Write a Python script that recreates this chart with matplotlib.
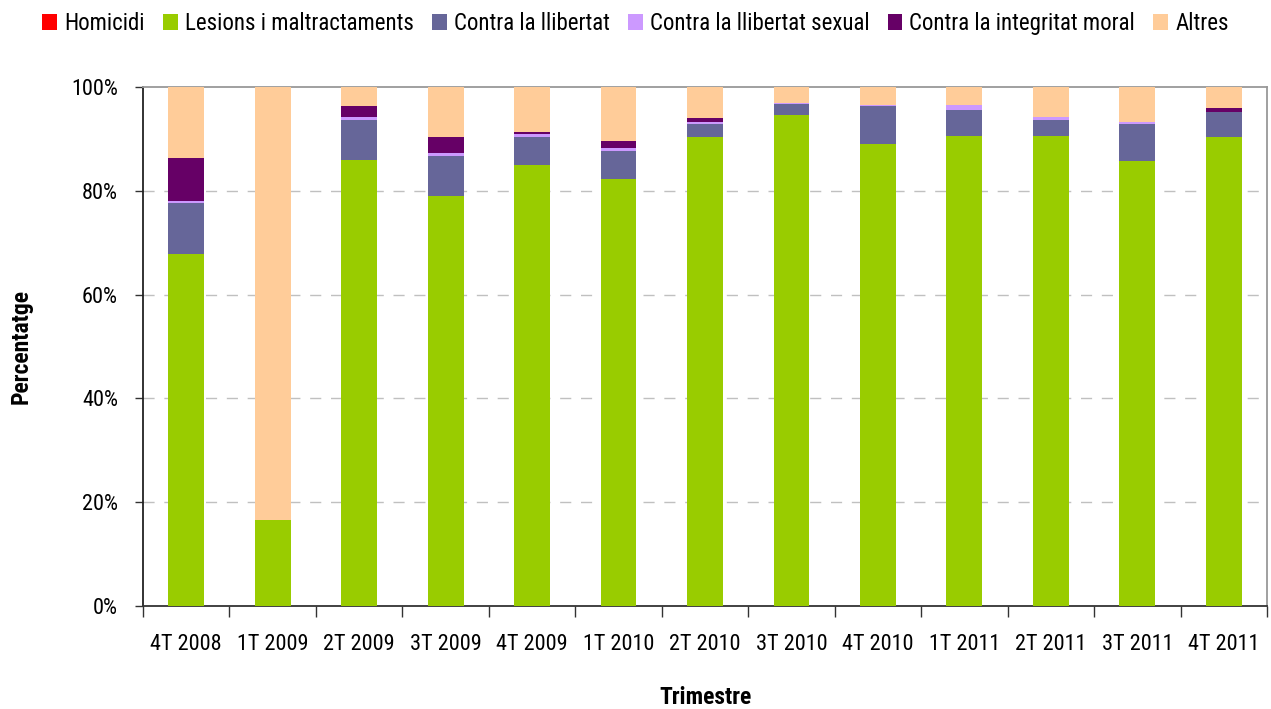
import numpy as np
import matplotlib
matplotlib.use('Agg')
import matplotlib.pyplot as plt
from matplotlib import font_manager
from matplotlib.ticker import PercentFormatter

# the original uses a narrow font; use one if available, otherwise shrink
installed = {f.name for f in font_manager.fontManager.ttflist}
narrow = [n for n in ['Liberation Sans Narrow', 'Arial Narrow', 'Roboto Condensed',
                      'Open Sans Condensed', 'DejaVu Sans Condensed'] if n in installed]
if narrow:
    plt.rcParams['font.family'] = [narrow[0], 'DejaVu Sans']
    fs_tick, fs_leg, fs_lab = 16, 16.5, 17
else:
    plt.rcParams['font.family'] = ['Liberation Sans', 'DejaVu Sans']
    fs_tick, fs_leg, fs_lab = 13, 13, 15

trimestres = ['4T 2008', '1T 2009', '2T 2009', '3T 2009', '4T 2009', '1T 2010', '2T 2010',
              '3T 2010', '4T 2010', '1T 2011', '2T 2011', '3T 2011', '4T 2011']

homicidi = [0, 0, 0, 0, 0, 0, 0, 0, 0, 0, 0, 0, 0]
lesions = [67.8, 16.6, 85.9, 79.0, 85.0, 82.3, 90.4, 94.6, 89.0, 90.6, 90.6, 85.7, 90.4]
llibertat = [9.85, 0, 7.7, 7.7, 5.4, 5.4, 2.5, 2.1, 7.3, 5.0, 3.0, 7.2, 4.8]
llibertat_sexual = [0.35, 0, 0.6, 0.6, 0.5, 0.5, 0.4, 0.2, 0.2, 0.9, 0.6, 0.4, 0]
integritat_moral = [8.3, 0, 2.1, 3.1, 0.4, 1.4, 0.7, 0, 0, 0, 0, 0, 0.8]
altres = [13.7, 83.4, 3.7, 9.6, 8.7, 10.4, 6.0, 3.1, 3.5, 3.5, 5.8, 6.7, 4.0]

series = [
    ('Homicidi', homicidi, '#FF0000'),
    ('Lesions i maltractaments', lesions, '#99CC00'),
    ('Contra la llibertat', llibertat, '#666699'),
    ('Contra la llibertat sexual', llibertat_sexual, '#CC99FF'),
    ('Contra la integritat moral', integritat_moral, '#660066'),
    ('Altres', altres, '#FFCC99'),
]

W, H = 1271, 709
fig = plt.figure(figsize=(W / 100, H / 100), dpi=100)
ax = fig.add_axes([143 / W, 1 - 606 / H, 1124 / W, 519 / H])

x = np.arange(len(trimestres))
bottom = np.zeros(len(trimestres))
for name, vals, col in series:
    vals = np.array(vals, dtype=float)
    ax.bar(x, vals, 0.415, bottom=bottom, color=col, label=name, zorder=3)
    bottom += vals

ax.set_xlim(-0.5, len(trimestres) - 0.5)
ax.set_ylim(0, 100)
ax.set_yticks(np.arange(0, 101, 20))
ax.yaxis.set_major_formatter(PercentFormatter(decimals=0))
ax.set_xticks(x)
ax.set_xticklabels(trimestres)
ax.tick_params(axis='x', length=0, pad=20, labelsize=fs_tick)
ax.set_xticks(np.arange(-0.5, len(trimestres), 1), minor=True)
ax.tick_params(axis='x', which='minor', length=8, width=1, color='#333333')
ax.tick_params(axis='y', length=6, width=1, color='#333333', labelsize=fs_tick, pad=12)

for yv in [20, 40, 60, 80]:
    ax.axhline(yv, color='#C0C0C0', lw=1, linestyle=(0, (8, 7)), zorder=1)

ax.spines['left'].set_color('#222222')
ax.spines['bottom'].set_color('#333333')
ax.spines['top'].set_color('#999999')
ax.spines['right'].set_color('#999999')
for s in ax.spines.values():
    s.set_linewidth(1.3)

fig.text(705 / W, 1 - 697 / H, 'Trimestre', fontsize=fs_lab, fontweight='bold',
         ha='center', va='center')
fig.text(21 / W, 1 - 346 / H, 'Percentatge', fontsize=fs_lab, fontweight='bold',
         ha='center', va='center', rotation=90)

fig.legend(loc='upper center', bbox_to_anchor=(0.5, 1.012), ncol=6, frameon=False,
           fontsize=fs_leg, handlelength=0.65, handleheight=0.65, handletextpad=0.3,
           columnspacing=0.8)

fig.savefig('out.png', dpi=100)
